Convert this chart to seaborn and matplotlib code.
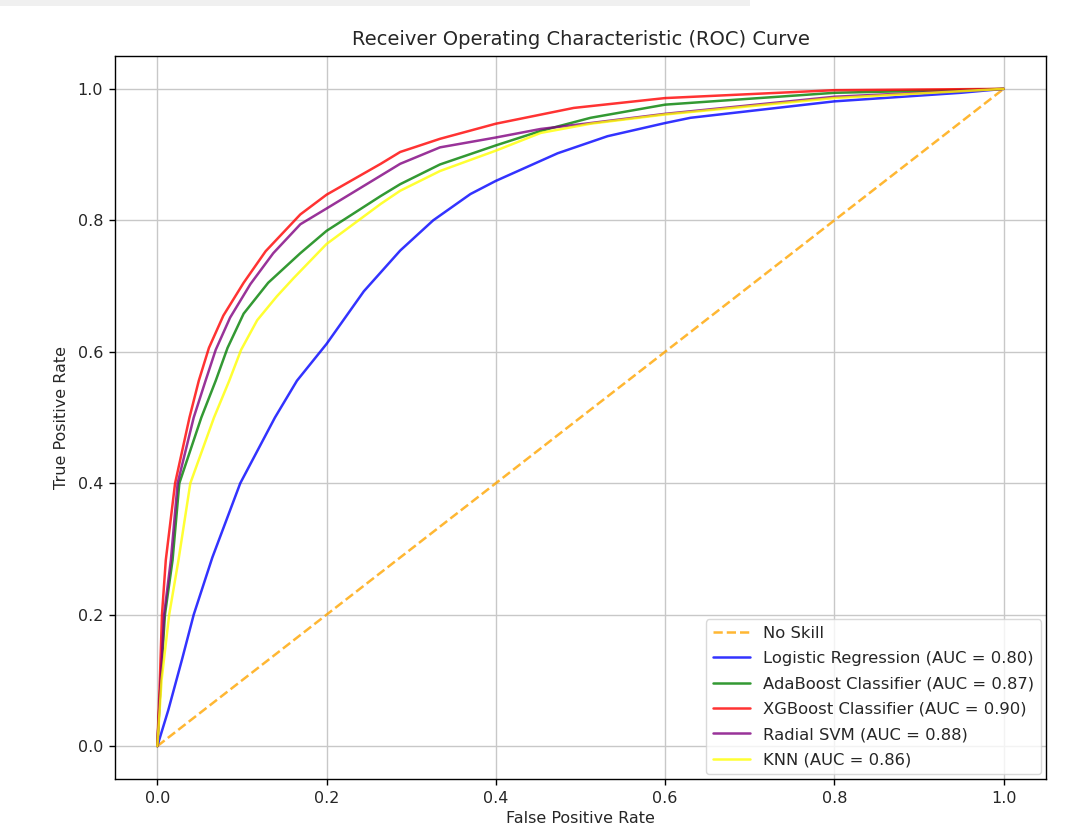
import numpy as np
import pandas as pd
import matplotlib
matplotlib.use("Agg")
import matplotlib.pyplot as plt
import seaborn as sns
from matplotlib.patches import Rectangle

# ---- data ----
noskill_fpr = [0.0, 1.0]
noskill_tpr = [0.0, 1.0]

lr_fpr = [0, 0.013, 0.029, 0.043, 0.065, 0.098, 0.139, 0.165, 0.2, 0.244, 0.287, 0.326, 0.370, 0.4, 0.473, 0.532, 0.6, 0.63, 0.8, 0.949, 1.0]
lr_tpr = [0, 0.055, 0.131, 0.2, 0.287, 0.4, 0.5, 0.556, 0.612, 0.692, 0.754, 0.80, 0.840, 0.860, 0.902, 0.928, 0.948, 0.956, 0.981, 0.994, 1.0]

ada_fpr = [0, 0.004, 0.009, 0.018, 0.026, 0.052, 0.069, 0.083, 0.102, 0.131, 0.169, 0.2, 0.264, 0.287, 0.334, 0.4, 0.453, 0.512, 0.6, 0.8, 1.0]
ada_tpr = [0, 0.1, 0.2, 0.283, 0.4, 0.5, 0.556, 0.606, 0.658, 0.705, 0.750, 0.784, 0.837, 0.855, 0.885, 0.914, 0.936, 0.956, 0.976, 0.994, 1.0]

xgb_fpr = [0, 0.003, 0.0055, 0.01, 0.021, 0.038, 0.049, 0.061, 0.078, 0.102, 0.128, 0.169, 0.2, 0.264, 0.287, 0.334, 0.4, 0.492, 0.6, 0.8, 1.0]
xgb_tpr = [0, 0.1, 0.2, 0.283, 0.4, 0.5, 0.556, 0.606, 0.655, 0.705, 0.753, 0.809, 0.839, 0.886, 0.904, 0.924, 0.947, 0.971, 0.986, 0.998, 1.0]

svm_fpr = [0, 0.004, 0.008, 0.016, 0.024, 0.043, 0.057, 0.069, 0.086, 0.110, 0.137, 0.169, 0.2, 0.264, 0.287, 0.334, 0.4, 0.453, 0.512, 0.6, 0.8, 1.0]
svm_tpr = [0, 0.1, 0.2, 0.283, 0.4, 0.5, 0.556, 0.603, 0.652, 0.703, 0.750, 0.794, 0.818, 0.868, 0.886, 0.911, 0.926, 0.939, 0.948, 0.962, 0.988, 1.0]

knn_fpr = [0, 0.005, 0.014, 0.025, 0.039, 0.067, 0.085, 0.099, 0.118, 0.141, 0.161, 0.2, 0.264, 0.287, 0.334, 0.4, 0.453, 0.512, 0.6, 0.8, 1.0]
knn_tpr = [0, 0.1, 0.2, 0.283, 0.4, 0.5, 0.556, 0.603, 0.648, 0.684, 0.712, 0.764, 0.825, 0.845, 0.875, 0.906, 0.933, 0.947, 0.961, 0.986, 1.0]

models = ["Logistic Regression", "AdaBoost Classifier", "XGBoost Classifier", "Radial SVM", "KNN"]
aucs = [0.80, 0.87, 0.90, 0.88, 0.86]
colors = ["blue", "green", "red", "purple", "yellow"]
curves = [(lr_fpr, lr_tpr), (ada_fpr, ada_tpr), (xgb_fpr, xgb_tpr), (svm_fpr, svm_tpr), (knn_fpr, knn_tpr)]

sns.set_style("white")
plt.rcParams["font.family"] = ["DejaVu Sans"]

fig = plt.figure(figsize=(10.85, 8.31), dpi=100)
ax = fig.add_axes([0.106, 0.0626, 0.858, 0.870])

# screenshot artifact strip at top
fig.patches.append(Rectangle((0, 1 - 6 / 831), 750 / 1085, 6 / 831, transform=fig.transFigure,
                             facecolor="#f0f0f0", edgecolor="none", zorder=0))

sns.lineplot(x=noskill_fpr, y=noskill_tpr, ax=ax, color="orange", linestyle="--",
             lw=1.8, alpha=0.8, label="No Skill", sort=False, estimator=None)
for name, auc, col, (fx, ty) in zip(models, aucs, colors, curves):
    sns.lineplot(x=fx, y=ty, ax=ax, color=col, lw=1.8, alpha=0.8,
                 label=f"{name} (AUC = {auc:.2f})", sort=False, estimator=None)

ax.set_xlim(-0.05, 1.05)
ax.set_ylim(-0.05, 1.05)
ax.set_xticks([0, 0.2, 0.4, 0.6, 0.8, 1.0])
ax.set_yticks([0, 0.2, 0.4, 0.6, 0.8, 1.0])
ax.grid(True, color="#c8c8c8", lw=1.0)
for s in ax.spines.values():
    s.set_color("black")
    s.set_linewidth(1.0)
ax.tick_params(axis="both", which="both", length=4.5, width=1, color="black",
               labelsize=11.5, bottom=True, left=True, pad=4)

ax.set_title("Receiver Operating Characteristic (ROC) Curve", fontsize=14, pad=8)
ax.set_xlabel("False Positive Rate", fontsize=11.5, labelpad=4)
ax.set_ylabel("True Positive Rate", fontsize=11.5, labelpad=6)

leg = ax.legend(loc="lower right", fontsize=11.8, frameon=True, fancybox=True,
                labelspacing=0.63, borderaxespad=0.3, handlelength=2.3)
leg.get_frame().set_edgecolor("#d0d0d0")

fig.savefig("out.png", dpi=100)
